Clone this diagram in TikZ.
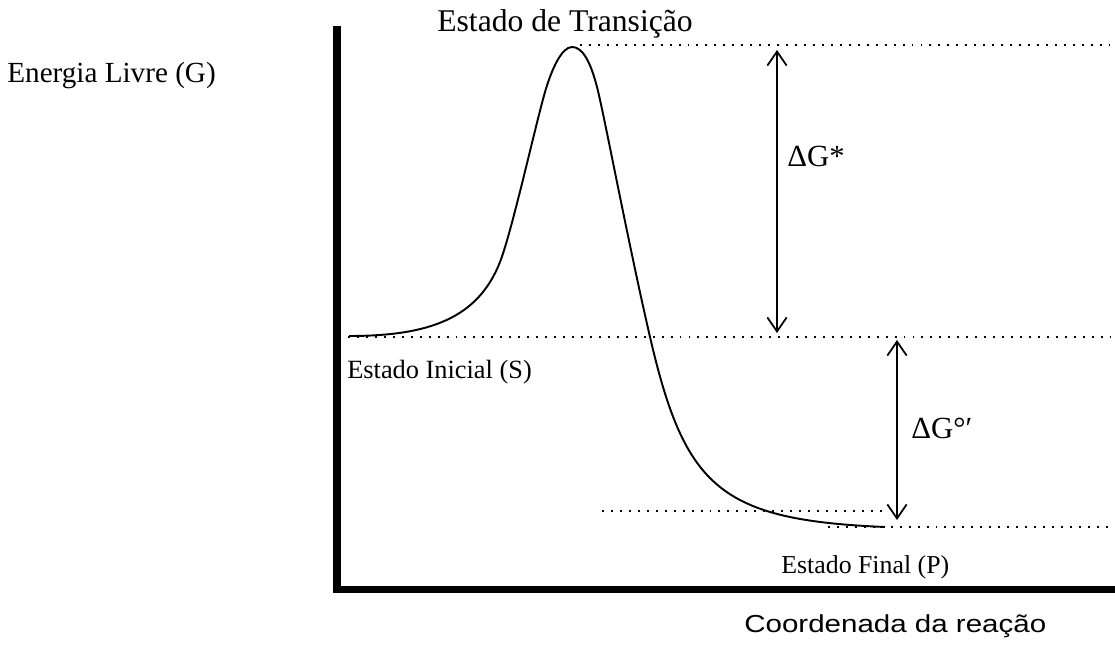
\documentclass[tikz,border=0pt]{standalone}
\usepackage{fontspec}
\setmainfont{Liberation Serif}
\setsansfont{Liberation Sans}
\usetikzlibrary{arrows.meta}
\tikzset{>={Straight Barb[length=8pt,width=11pt]}}

\begin{document}
\begin{tikzpicture}[x=0.02cm, y=-0.02cm,
  nivel/.style={line width=1.1pt, dash pattern=on 1.1pt off 4pt},
  seta/.style={<->, line width=1pt},
  rotulo/.style={inner sep=0pt, anchor=base west}]
\useasboundingbox (0,0) rectangle (1115,648);

% Eixos
\draw[line width=4.3pt] (337,26) -- (337,589.5) -- (1115,589.5);

% Niveis (pontilhado)
\foreach \xa/\xb/\y in {580/1110/45, 348/1110/337, 602/882/511, 828/1110/527}
  \draw[nivel] (\xa,\y) -- (\xb,\y);

% Curva de energia livre
\draw[line width=1.1pt] (349,336)
  .. controls (430,336) and (478,318) .. (500,262)
  .. controls (512,231) and (535,127) .. (545,92)
  .. controls (552,68) and (562,47) .. (572,47)
  .. controls (582,47) and (590,60) .. (597,87)
  .. controls (604,114) and (628,242) .. (650,337)
  .. controls (685,488) and (720,520) .. (885,527);

% Setas
\coordinate (topo) at (777,50);
\coordinate (inicA) at (777,333);
\coordinate (inicB) at (897,340);
\coordinate (final) at (897,520);
\draw[seta] (topo) -- (inicA);
\draw[seta] (inicB) -- (final);

% Textos
\node[inner sep=0pt, anchor=base] (trans) at (565,32) {\fontsize{18}{20}\selectfont Estado de Transição};
\node[rotulo] (energ) at (7,83) {\fontsize{16.6}{19}\selectfont Energia Livre (G)};
\node[rotulo] (inic) at (347,378) {\fontsize{15}{18}\selectfont Estado Inicial (S)};
\node[rotulo] (fin) at (781,573) {\fontsize{14.7}{17}\selectfont Estado Final (P)};
\node[rotulo] (dgat) at (787,167) {\fontsize{17.5}{20}\selectfont ΔG*};
\node[rotulo] (dgpad) at (911,438) {\fontsize{17.5}{20}\selectfont ΔG°′};
\node[rotulo] (coord) at (744,632) {\scalebox{1.2}[1]{\sffamily\fontsize{14}{17}\selectfont Coordenada da reação}};

\end{tikzpicture}
\end{document}
